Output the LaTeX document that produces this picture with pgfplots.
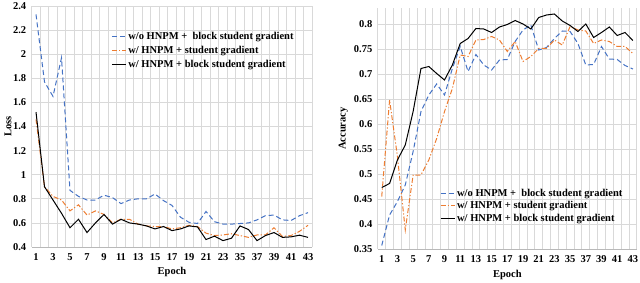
\documentclass[border=0pt]{standalone}
\usepackage{pgfplots}
\pgfplotsset{compat=1.18}
\usepackage{pgfplotstable}
\usepackage{fontspec}
\setmainfont{Liberation Serif}
\definecolor{xblue}{HTML}{4472C4}
\definecolor{xorange}{HTML}{ED7D31}
\definecolor{xgrid}{HTML}{D9D9D9}

\pgfplotstableread{
i blue orange black
0 2.33 1.46 1.52
1 1.77 0.90 0.90
2 1.65 0.82 0.79
3 1.97 0.79 0.68
4 0.87 0.70 0.56
5 0.82 0.75 0.63
6 0.79 0.665 0.52
7 0.79 0.70 0.60
8 0.83 0.67 0.67
9 0.81 0.60 0.59
10 0.76 0.63 0.63
11 0.79 0.63 0.60
12 0.80 0.59 0.59
13 0.80 0.575 0.575
14 0.84 0.57 0.55
15 0.785 0.57 0.57
16 0.745 0.55 0.536
17 0.647 0.56 0.55
18 0.605 0.58 0.575
19 0.595 0.57 0.567
20 0.695 0.515 0.462
21 0.61 0.495 0.49
22 0.59 0.50 0.453
23 0.59 0.51 0.473
24 0.595 0.495 0.575
25 0.60 0.48 0.545
26 0.625 0.50 0.453
27 0.66 0.50 0.495
28 0.665 0.56 0.52
29 0.625 0.487 0.48
30 0.62 0.495 0.484
31 0.66 0.53 0.498
32 0.685 0.58 0.48
}\losstable

\pgfplotstableread{
i blue orange black
0 0.357 0.455 0.473
1 0.418 0.648 0.481
2 0.445 0.535 0.528
3 0.478 0.388 0.558
4 0.545 0.498 0.625
5 0.625 0.498 0.711
6 0.658 0.528 0.715
7 0.680 0.571 0.701
8 0.658 0.625 0.688
9 0.711 0.671 0.718
10 0.755 0.738 0.761
11 0.705 0.735 0.771
12 0.739 0.768 0.791
13 0.718 0.769 0.790
14 0.708 0.775 0.783
15 0.728 0.768 0.794
16 0.729 0.745 0.799
17 0.765 0.765 0.807
18 0.788 0.725 0.800
19 0.798 0.735 0.790
20 0.748 0.751 0.813
21 0.753 0.751 0.818
22 0.771 0.768 0.820
23 0.786 0.758 0.806
24 0.785 0.795 0.797
25 0.761 0.788 0.785
26 0.718 0.786 0.800
27 0.719 0.761 0.773
28 0.755 0.768 0.783
29 0.730 0.765 0.794
30 0.729 0.755 0.777
31 0.717 0.755 0.783
32 0.710 0.741 0.767
}\acctable

\pgfplotsset{
  mystyle/.style={
    scale only axis,
    font=\fontsize{10.5bp}{12bp}\selectfont\bfseries,
    /pgf/number format/assume math mode=true,
    xmin=-0.5, xmax=32.5,
    xtick={0,2,...,32},
    xticklabels={1,3,5,7,9,11,13,15,17,19,21,23,35,37,39,41,43},
    minor xtick={-0.5,0.5,...,32.5},
    xminorgrids=true, ymajorgrids=true,
    major grid style={draw=xgrid, line width=0.8bp},
    minor grid style={draw=xgrid, line width=0.8bp},
    major tick length=0pt, minor tick length=0pt,
    separate axis lines,
    axis x line*=bottom,
    x axis line style={draw=gray!55, line width=0.8bp, -},
    y axis line style={draw=none},
    xticklabel style={yshift=-3bp},
    yticklabel style={xshift=-2bp, /pgf/number format/fixed},
    legend cell align=left,
    legend style={draw=none, fill=none, font=\fontsize{10.5bp}{12bp}\selectfont\bfseries, inner sep=0pt},
    legend image code/.code={\draw[##1] (0bp,0bp) -- (14bp,0bp);},
    every axis plot/.append style={line width=1bp},
  },
  sblue/.style={xblue, dash pattern=on 5bp off 3bp},
  sorange/.style={xorange, dash pattern=on 5bp off 2bp on 1.2bp off 2bp},
  sblack/.style={black},
}

\begin{document}
\begin{tikzpicture}[x=1bp,y=1bp]
\useasboundingbox (0,0) rectangle (640,282);
\begin{axis}[mystyle,
  at={(31.75bp,35bp)}, anchor=south west,
  width=280.5bp, height=241bp,
  ymin=0.4, ymax=2.4, ytick={0.4,0.6,...,2.41},
  ylabel={Loss}, xlabel={Epoch},
  ylabel style={at={(axis description cs:-0.085,0.5)}, anchor=center},
  xlabel style={at={(axis description cs:0.5,-0.104)}, anchor=center},
  legend style={at={(0.283,0.902)}, anchor=north west, row sep=1.5bp},
]
\addplot[sblue] table[x=i,y=blue]{\losstable};
\addlegendentry{w/o HNPM + \ block student gradient}
\addplot[sorange] table[x=i,y=orange]{\losstable};
\addlegendentry{w/ HNPM + student gradient}
\addplot[sblack] table[x=i,y=black]{\losstable};
\addlegendentry{w/ HNPM + block student gradient}
\end{axis}
\begin{axis}[mystyle,
  at={(377.8bp,33bp)}, anchor=south west,
  width=259bp, height=241bp,
  ymin=0.35, ymax=0.832, ytick={0.35,0.4,...,0.801},
  yticklabel style={/pgf/number format/precision=2},
  ylabel={Accuracy}, xlabel={Epoch},
  ylabel style={at={(axis description cs:-0.133,0.5)}, anchor=center},
  xlabel style={at={(axis description cs:0.5,-0.108)}, anchor=center},
  legend style={at={(0.24,0.2575)}, anchor=north west, row sep=-0.3bp},
]
\addplot[sblue] table[x=i,y=blue]{\acctable};
\addlegendentry{w/o HNPM + \ block student gradient}
\addplot[sorange] table[x=i,y=orange]{\acctable};
\addlegendentry{w/ HNPM + student gradient}
\addplot[sblack] table[x=i,y=black]{\acctable};
\addlegendentry{w/ HNPM + block student gradient}
\end{axis}
\end{tikzpicture}
\end{document}
